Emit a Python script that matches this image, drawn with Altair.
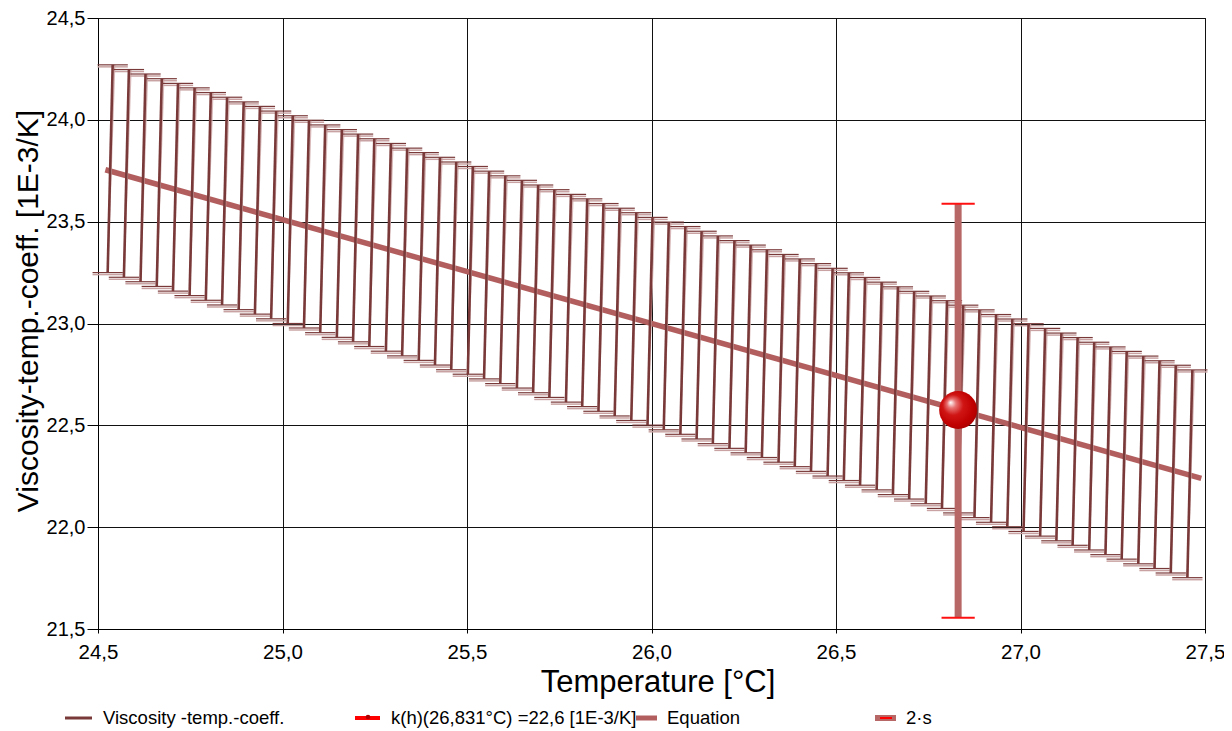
import altair as alt
import pandas as pd

# ---- data ----
bar_x = [24.533, 24.577, 24.622, 24.666, 24.710, 24.755, 24.799, 24.843, 24.888, 24.932,
         24.976, 25.021, 25.065, 25.109, 25.154, 25.198, 25.242, 25.287, 25.331, 25.376,
         25.420, 25.464, 25.509, 25.553, 25.597, 25.642, 25.686, 25.730, 25.775, 25.819,
         25.863, 25.907, 25.952, 25.996, 26.040, 26.085, 26.129, 26.173, 26.218, 26.262,
         26.306, 26.351, 26.395, 26.439, 26.484, 26.528, 26.572, 26.617, 26.661, 26.705,
         26.750, 26.794, 26.838, 26.882, 26.927, 26.971, 27.015, 27.060, 27.104, 27.148,
         27.193, 27.237, 27.281, 27.326, 27.370, 27.414, 27.459]
bar_upper = [24.270, 24.247, 24.225, 24.202, 24.179, 24.157, 24.134, 24.111, 24.088, 24.066,
             24.043, 24.020, 23.998, 23.975, 23.952, 23.930, 23.907, 23.884, 23.861, 23.839,
             23.816, 23.793, 23.771, 23.748, 23.725, 23.703, 23.680, 23.657, 23.634, 23.612,
             23.589, 23.566, 23.544, 23.521, 23.498, 23.476, 23.453, 23.430, 23.407, 23.385,
             23.362, 23.339, 23.317, 23.294, 23.271, 23.249, 23.226, 23.203, 23.180, 23.158,
             23.135, 23.112, 23.090, 23.067, 23.044, 23.022, 22.999, 22.976, 22.953, 22.931,
             22.908, 22.885, 22.863, 22.840, 22.817, 22.795, 22.772]
bar_lower = [23.250, 23.227, 23.205, 23.182, 23.159, 23.137, 23.114, 23.091, 23.068, 23.046,
             23.023, 23.000, 22.978, 22.955, 22.932, 22.910, 22.887, 22.864, 22.841, 22.819,
             22.796, 22.773, 22.751, 22.728, 22.705, 22.683, 22.660, 22.637, 22.614, 22.592,
             22.569, 22.546, 22.524, 22.501, 22.478, 22.456, 22.433, 22.410, 22.387, 22.365,
             22.342, 22.319, 22.297, 22.274, 22.251, 22.229, 22.206, 22.183, 22.160, 22.138,
             22.115, 22.092, 22.070, 22.047, 22.024, 22.002, 21.979, 21.956, 21.933, 21.911,
             21.888, 21.865, 21.843, 21.820, 21.797, 21.775, 21.752]
eq_x = [24.52, 27.49]
eq_y = [23.755, 22.24]
pt_x = [26.831]
pt_y = [22.575]
pt_lo = [21.555]
pt_hi = [23.588]
x_ticks = [24.5, 25.0, 25.5, 26.0, 26.5, 27.0, 27.5]
y_ticks = [21.5, 22.0, 22.5, 23.0, 23.5, 24.0, 24.5]
legend_labels = ["Viscosity -temp.-coeff.", "k(h)(26,831°C) =22,6 [1E-3/K]", "Equation", "2·s"]

SLANT = 0.0068   # bars lean slightly in the reference
CAP = 0.041      # half width of the caps (x units)
PT_CAP = 0.045

bars = pd.DataFrame({"x": bar_x, "hi": bar_upper, "lo": bar_lower})
bars["xt"] = bars["x"] + SLANT
bars["xb"] = bars["x"] - SLANT
bars["xt1"] = bars["xt"] - CAP
bars["xt2"] = bars["xt"] + CAP
bars["xb1"] = bars["xb"] - CAP
bars["xb2"] = bars["xb"] + CAP

eq = pd.DataFrame({"x": eq_x, "y": eq_y})
pt = pd.DataFrame({"x": pt_x, "y": pt_y, "lo": pt_lo, "hi": pt_hi})
pt["c1"] = pt["x"] - PT_CAP
pt["c2"] = pt["x"] + PT_CAP

W, H = 1107, 611
TOP = 10
FONT = "Liberation Sans"
lab = "replace(format(datum.value, '.1f'), '.', ',')"
xscale = alt.Scale(domain=[24.5, 27.5], nice=False, zero=False)
yscale = alt.Scale(domain=[21.5, 24.5], nice=False, zero=False)
xaxis = alt.Axis(values=x_ticks, labelExpr=lab, title="Temperature [°C]", grid=True,
                 tickSize=4, labelPadding=9, titlePadding=5, labelFontSize=20.5,
                 titleFontSize=31, labelFlush=False, titleX=W / 2 + 6)
yaxis = alt.Axis(values=y_ticks, labelExpr=lab, title="Viscosity-temp.-coeff. [1E-3/K]",
                 grid=True, tickSize=11, labelPadding=2, titlePadding=3,
                 labelFontSize=20, titleFontSize=30, labelFlush=False, titleY=H / 2 - 13)


def X(f):
    return alt.X(f, type="quantitative", scale=xscale, axis=xaxis)


def Y(f):
    return alt.Y(f, type="quantitative", scale=yscale, axis=yaxis)


DARK = "#7a3939"
LIGHT = "#d8b8b8"
EQC = "#b35e5e"
SD = "#b86767"

eq_line = alt.Chart(eq).mark_line(color=EQC, strokeWidth=5.5).encode(x=X("x"), y=Y("y"))

bar_shadow = alt.Chart(bars).mark_rule(color=LIGHT, strokeWidth=1.4, xOffset=2).encode(
    x=X("xt"), x2="xb", y=Y("hi"), y2="lo")
cap_shadow_top = alt.Chart(bars).mark_rule(color="#c9a3a3", strokeWidth=1.5, yOffset=2).encode(
    x=X("xt1"), x2="xt2", y=Y("hi"))
cap_shadow_bot = alt.Chart(bars).mark_rule(color="#c9a3a3", strokeWidth=1.5, yOffset=2).encode(
    x=X("xb1"), x2="xb2", y=Y("lo"))
bar_rules = alt.Chart(bars).mark_rule(color=DARK, strokeWidth=2.6).encode(
    x=X("xt"), x2="xb", y=Y("hi"), y2="lo")
cap_top = alt.Chart(bars).mark_rule(color=DARK, strokeWidth=1.2).encode(
    x=X("xt1"), x2="xt2", y=Y("hi"))
cap_bot = alt.Chart(bars).mark_rule(color=DARK, strokeWidth=1.2).encode(
    x=X("xb1"), x2="xb2", y=Y("lo"))

sd_bar = alt.Chart(pt).mark_rule(color=SD, strokeWidth=7).encode(x=X("x"), y=Y("lo"), y2="hi")
sd_cap_hi = alt.Chart(pt).mark_rule(color="#ff1010", strokeWidth=2).encode(x=X("c1"), x2="c2", y=Y("hi"))
sd_cap_lo = alt.Chart(pt).mark_rule(color="#ff1010", strokeWidth=2).encode(x=X("c1"), x2="c2", y=Y("lo"))

grad = alt.Gradient(
    gradient="radial",
    stops=[alt.GradientStop(color="#ffffff", offset=0.0),
           alt.GradientStop(color="#e87070", offset=0.2),
           alt.GradientStop(color="#d01515", offset=0.45),
           alt.GradientStop(color="#c00000", offset=0.8),
           alt.GradientStop(color="#a80000", offset=1.0)],
    x1=0.3, y1=0.3, r1=0.0, x2=0.45, y2=0.45, r2=0.6)
point = alt.Chart(pt).mark_circle(size=1440, opacity=1, fill=grad).encode(x=X("x"), y=Y("y"))

# ---- legend (below the plot) ----
LY = 718 - 8 - TOP   # page y of legend row, relative to the plot origin
LFS = 18.5
OX = 98  # page x of the plot origin


def ltext(label, px):
    return alt.Chart(pd.DataFrame({"t": [label]})).mark_text(
        align="left", baseline="middle", font=FONT, fontSize=LFS, color="black").encode(
        x=alt.value(px - OX), y=alt.value(LY), text="t:N")


def lrule(x1, x2, color, w):
    return alt.Chart(pd.DataFrame({"t": [0]})).mark_rule(color=color, strokeWidth=w).encode(
        x=alt.value(x1 - OX), x2=alt.value(x2 - OX), y=alt.value(LY))


legend = [
    lrule(65, 92, DARK, 3), ltext(legend_labels[0], 103),
    lrule(355, 380, "#ff0000", 4),
    alt.Chart(pd.DataFrame({"t": [0]})).mark_circle(size=22, color="#b00000", opacity=1).encode(
        x=alt.value(368 - OX), y=alt.value(LY - 1)),
    ltext(legend_labels[1], 391),
    lrule(636, 657, EQC, 5), ltext(legend_labels[2], 667),
    lrule(875, 896, SD, 6), lrule(880, 892, "#ff0000", 2), ltext(legend_labels[3], 906),
]

chart = alt.layer(
    eq_line, bar_shadow, cap_shadow_top, cap_shadow_bot, bar_rules, cap_top, cap_bot,
    sd_bar, sd_cap_hi, sd_cap_lo, point, *legend
).properties(
    width=W, height=H, autosize="none",
    padding={"left": 90, "top": TOP, "right": 19, "bottom": 100},
    background="white",
).configure_view(stroke="black", strokeWidth=1).configure_axis(
    labelFont=FONT, titleFont=FONT, labelColor="black", titleColor="black",
    titleFontWeight="normal", domainColor="black", tickColor="black",
    gridColor="#111111", gridOpacity=1, gridWidth=1,
)

chart.save("out.html", embed_options={"renderer": "svg", "actions": False})
